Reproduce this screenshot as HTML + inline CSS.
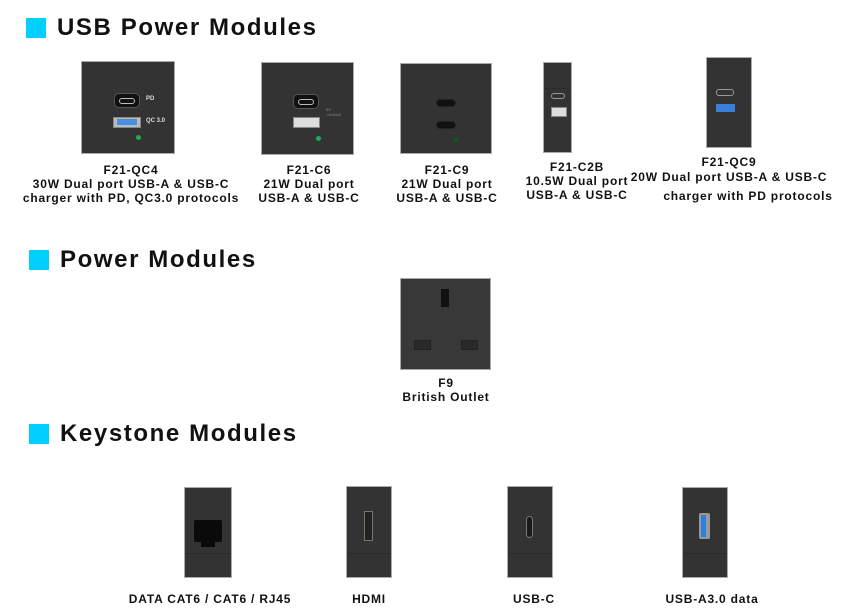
<!DOCTYPE html>
<html><head><meta charset="utf-8"><style>
*{margin:0;padding:0;box-sizing:border-box}
body{width:850px;height:616px;background:#fff;position:relative;overflow:hidden;font-family:"Liberation Sans",sans-serif;color:#111}
.a{position:absolute}
.sq{position:absolute;background:#00cfff;width:20px;height:20px}
.h{position:absolute;font-weight:bold;font-size:24px;letter-spacing:1.6px;line-height:24px;white-space:nowrap}
.p{position:absolute;background:#333;border:1px solid #aaa}
.t{position:absolute;font-weight:bold;font-size:12px;line-height:14px;text-align:center;white-space:nowrap;letter-spacing:0.8px;transform:translateX(-50%)}
.c{position:absolute;border-radius:5px;background:#111;border:1px solid #555}
.ci{position:absolute;border-radius:3px;border:1.5px solid #bbb}
.ua{position:absolute;background:#ccc;border:1px solid #888}
.led{position:absolute;width:5px;height:5px;border-radius:50%;background:#2a5}
.ln{position:absolute;height:1px;background:#2a2a2a}
</style></head><body>

<div class="sq" style="left:26px;top:18px"></div>
<div class="h" style="left:57px;top:16px">USB Power Modules</div>

<!-- QC4 -->
<div class="p" style="left:81px;top:61px;width:94px;height:93px"></div>
<div class="c" style="left:114px;top:93px;width:26px;height:15px"></div>
<div class="ci" style="left:119px;top:98px;width:16px;height:6px"></div>
<div class="a" style="left:146px;top:96px;color:#ddd;font-size:6px;font-weight:bold">PD</div>
<div class="ua" style="left:113px;top:117px;width:28px;height:11px;background:#bbb"></div>
<div class="a" style="left:117px;top:119px;width:20px;height:6px;background:#4a90e0"></div>
<div class="a" style="left:146px;top:118px;color:#ddd;font-size:6px;font-weight:bold">QC 3.0</div>
<div class="led" style="left:136px;top:135px"></div>
<div class="t" style="left:131px;top:163px">F21-QC4<br>30W Dual port USB-A &amp; USB-C<br>charger with PD, QC3.0 protocols</div>

<!-- C6 -->
<div class="p" style="left:261px;top:62px;width:93px;height:93px"></div>
<div class="c" style="left:293px;top:94px;width:26px;height:15px"></div>
<div class="ci" style="left:298px;top:99px;width:16px;height:6px"></div>
<div class="ua" style="left:293px;top:117px;width:27px;height:11px;background:#ddd"></div>
<div class="a" style="left:326px;top:107px;color:#888;font-size:4px">5V<br>&lt;400mA</div>
<div class="led" style="left:316px;top:136px"></div>
<div class="t" style="left:309px;top:163px">F21-C6<br>21W Dual port<br>USB-A &amp; USB-C</div>

<!-- C9 -->
<div class="p" style="left:400px;top:63px;width:92px;height:91px"></div>
<div class="c" style="left:436px;top:99px;width:20px;height:8px;border-color:#222"></div>
<div class="c" style="left:436px;top:121px;width:20px;height:8px;border-color:#222"></div>
<div class="led" style="left:454px;top:137px;background:#153"></div>
<div class="t" style="left:447px;top:163px">F21-C9<br>21W Dual port<br>USB-A &amp; USB-C</div>

<!-- C2B -->
<div class="p" style="left:543px;top:62px;width:29px;height:91px"></div>
<div class="ln" style="left:545px;top:88px;width:25px"></div>
<div class="ci" style="left:551px;top:93px;width:14px;height:6px;border-color:#999"></div>
<div class="ua" style="left:551px;top:107px;width:16px;height:10px;background:#ddd"></div>
<div class="t" style="left:577px;top:160px">F21-C2B<br>10.5W Dual port<br>USB-A &amp; USB-C</div>

<!-- QC9 -->
<div class="p" style="left:706px;top:57px;width:46px;height:91px"></div>
<div class="ci" style="left:716px;top:89px;width:18px;height:7px;border-color:#999"></div>
<div class="a" style="left:716px;top:104px;width:19px;height:8px;background:#3b7fd8"></div>
<div class="t" style="left:729px;top:155px">F21-QC9</div>
<div class="t" style="left:729px;top:170px">20W Dual port USB-A &amp; USB-C</div>
<div class="t" style="left:748px;top:189px">charger with PD protocols</div>

<div class="sq" style="left:29px;top:250px"></div>
<div class="h" style="left:60px;top:248px">Power Modules</div>

<div class="p" style="left:400px;top:278px;width:91px;height:92px;background:#383838"></div>
<div class="a" style="left:441px;top:289px;width:8px;height:18px;background:#111"></div>
<div class="a" style="left:414px;top:340px;width:17px;height:10px;background:#2a2a2a;border:1px solid #222"></div>
<div class="a" style="left:461px;top:340px;width:17px;height:10px;background:#2a2a2a;border:1px solid #222"></div>
<div class="t" style="left:446px;top:376px">F9<br>British Outlet</div>

<div class="sq" style="left:29px;top:424px"></div>
<div class="h" style="left:60px;top:422px">Keystone Modules</div>

<!-- keystones -->
<div class="p" style="left:184px;top:487px;width:48px;height:91px"></div>
<div class="a" style="left:194px;top:520px;width:28px;height:22px;background:#0a0a0a;border-radius:2px"></div>
<div class="a" style="left:201px;top:542px;width:14px;height:5px;background:#0a0a0a"></div>
<div class="ln" style="left:186px;top:553px;width:44px"></div>
<div class="t" style="left:210px;top:592px">DATA CAT6 / CAT6 / RJ45</div>

<div class="p" style="left:346px;top:486px;width:46px;height:92px"></div>
<div class="a" style="left:364px;top:511px;width:9px;height:30px;background:#222;border:1.5px solid #776"></div>
<div class="ln" style="left:348px;top:553px;width:42px"></div>
<div class="t" style="left:369px;top:592px">HDMI</div>

<div class="p" style="left:507px;top:486px;width:46px;height:92px"></div>
<div class="a" style="left:526px;top:516px;width:7px;height:22px;border:1px solid #777;border-radius:4px;background:#1a1a1a"></div>
<div class="ln" style="left:509px;top:553px;width:42px"></div>
<div class="t" style="left:534px;top:592px">USB-C</div>

<div class="p" style="left:682px;top:487px;width:46px;height:91px"></div>
<div class="a" style="left:699px;top:513px;width:11px;height:26px;background:#999;border-radius:2px"></div>
<div class="a" style="left:701px;top:515px;width:5px;height:22px;background:#2f7fe0"></div>
<div class="ln" style="left:684px;top:553px;width:42px"></div>
<div class="t" style="left:712px;top:592px">USB-A3.0 data</div>

</body></html>
